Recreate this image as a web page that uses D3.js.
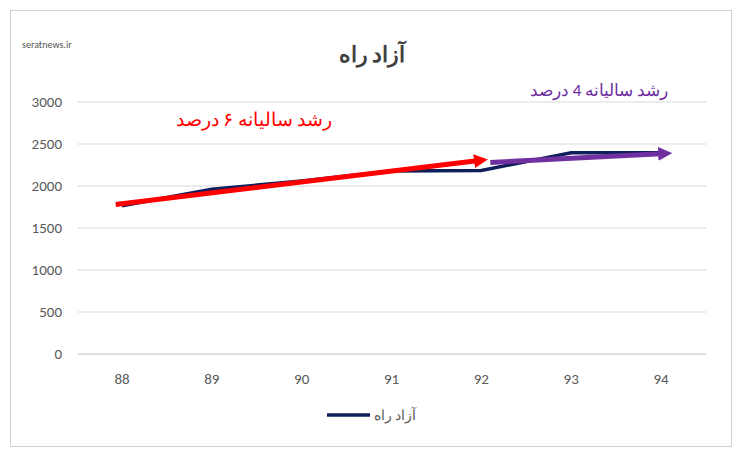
<!DOCTYPE html>
<html><head><meta charset="utf-8">
<script src="https://cdn.jsdelivr.net/npm/d3@7"></script>
<style>body{margin:0;background:#fff}text{font-family:Calibri,"Liberation Sans",Arial,sans-serif}</style>
</head><body><div id="chart"></div>
<script>
const categories = ['88', '89', '90', '91', '92', '93', '94']
const values = [1765, 1962, 2060, 2178, 2185, 2395, 2395]
const yTicks = [0, 500, 1000, 1500, 2000, 2500, 3000]
// arrows: [category index (fractional), value]
const redArrow = [[-0.07, 1780], [3.95, 2300]]
const purpleArrow = [[4.1, 2280], [6.0, 2385]]

const width = 745
const height = 454
const svg = d3.select('#chart').append('svg').attr('width', width).attr('height', height)

svg.append('rect').attr('x', 10.5).attr('y', 10.5).attr('width', 721).attr('height', 436)
  .attr('fill', '#fff').attr('stroke', '#d0d0d0')

const x = d3.scaleLinear().domain([0, 6]).range([122, 661])
const y = d3.scaleLinear().domain([0, 3000]).range([354, 102])

svg.append('g').selectAll('line').data(yTicks).enter().append('line')
  .attr('x1', 78).attr('x2', 706).attr('y1', d => y(d)).attr('y2', d => y(d))
  .attr('stroke', d => d === 0 ? '#bfbfbf' : '#d9d9d9')

svg.append('g').selectAll('text').data(yTicks).enter().append('text')
  .attr('x', 62).attr('y', d => y(d) + 5).attr('text-anchor', 'end')
  .attr('font-size', 15).attr('fill', '#595959').text(d => d)

svg.append('g').selectAll('text').data(categories).enter().append('text')
  .attr('x', (d, i) => x(i)).attr('y', 384).attr('text-anchor', 'middle')
  .attr('font-size', 15).attr('fill', '#595959').text(d => d)

svg.append('text').attr('x', 372).attr('y', 62).attr('text-anchor', 'middle')
  .attr('font-size', 22).attr('font-weight', 'bold').attr('fill', '#404040').text('آزاد راه')

const line = d3.line().x((d, i) => x(i)).y(d => y(d))
svg.append('path').datum(values).attr('d', line).attr('fill', 'none')
  .attr('stroke', '#0f1f5c').attr('stroke-width', 3.5)

const defs = svg.append('defs')
const addMarker = (id, color) => defs.append('marker').attr('id', id)
  .attr('viewBox', '0 0 10 10').attr('refX', 2).attr('refY', 5)
  .attr('markerWidth', 2.8).attr('markerHeight', 2.8).attr('orient', 'auto')
  .append('path').attr('d', 'M0,0L10,5L0,10Z').attr('fill', color)
addMarker('ar', '#ff0000')
addMarker('ap', '#7030a0')

const arrow = d3.line().x(d => x(d[0])).y(d => y(d[1]))
svg.append('path').datum(redArrow).attr('d', arrow).attr('stroke', '#ff0000')
  .attr('stroke-width', 5).attr('marker-end', 'url(#ar)')
svg.append('path').datum(purpleArrow).attr('d', arrow).attr('stroke', '#7030a0')
  .attr('stroke-width', 5).attr('marker-end', 'url(#ap)')

svg.append('text').attr('x', 332).attr('y', 126).attr('text-anchor', 'start').attr('direction', 'rtl')
  .attr('font-size', 19).attr('fill', '#ff0000').text('رشد سالیانه ۶ درصد')
svg.append('text').attr('x', 668).attr('y', 96).attr('text-anchor', 'start').attr('direction', 'rtl')
  .attr('font-size', 17).attr('fill', '#7030a0').text('رشد سالیانه 4 درصد')

svg.append('line').attr('x1', 327).attr('x2', 370).attr('y1', 415).attr('y2', 415)
  .attr('stroke', '#0f1f5c').attr('stroke-width', 3.5)
svg.append('text').attr('x', 374).attr('y', 420).attr('font-size', 14).attr('fill', '#595959').text('آزاد راه')

svg.append('text').attr('x', 22).attr('y', 48).attr('font-size', 10).attr('fill', '#555').text('seratnews.ir')
</script></body></html>
